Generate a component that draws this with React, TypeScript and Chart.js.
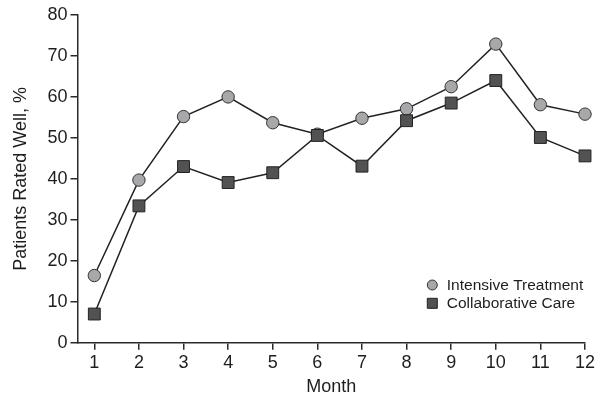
import React, { useEffect, useRef } from "react";
import { Chart, registerables } from "chart.js";

Chart.register(...registerables);

const months = [1, 2, 3, 4, 5, 6, 7, 8, 9, 10, 11, 12];
const intensive = [16.4, 39.7, 55.2, 60.0, 53.7, 50.9, 54.8, 57.1, 62.5, 72.9, 58.1, 55.8];
const collaborative = [7.0, 33.4, 43.0, 39.1, 41.5, 50.6, 43.1, 54.2, 58.5, 64.0, 50.1, 45.6];
const seriesLabels = ["Intensive Treatment", "Collaborative Care"];
const yTicks = [0, 10, 20, 30, 40, 50, 60, 70, 80];

const FONT = "'Liberation Sans', Arial, Helvetica, sans-serif";
const TEXT = "#1e1e1e";
const AXIS = "#2a2a2a";

const legendPlugin = {
  id: "insideLegend",
  afterDraw(chart: any) {
    const { ctx, chartArea } = chart;
    const baseX = chartArea.right - 152.7;
    const rows = [chartArea.bottom - 57.7, chartArea.bottom - 39.4];
    ctx.save();
    chart.data.datasets.forEach((ds: any, i: number) => {
      const y = rows[i];
      ctx.fillStyle = ds.pointBackgroundColor;
      ctx.strokeStyle = ds.pointBorderColor;
      ctx.lineWidth = 1;
      ctx.beginPath();
      if (ds.pointStyle === "rect") {
        ctx.rect(baseX - 5, y - 5, 10, 10);
      } else {
        ctx.arc(baseX, y, 5, 0, Math.PI * 2);
      }
      ctx.fill();
      ctx.stroke();
      ctx.fillStyle = TEXT;
      ctx.font = `15.5px ${FONT}`;
      ctx.textBaseline = "middle";
      ctx.textAlign = "left";
      ctx.fillText(ds.label, baseX + 14.5, y + 0.5);
    });
    ctx.restore();
  },
};

export default function App() {
  const ref = useRef<HTMLCanvasElement | null>(null);

  useEffect(() => {
    document.body.style.margin = "0";
    const canvas = ref.current;
    if (!canvas) return;
    const chart = new Chart(canvas, {
      type: "line",
      data: {
        datasets: [
          {
            label: seriesLabels[0],
            data: months.map((m, i) => ({ x: m, y: intensive[i] })),
            borderColor: "#222",
            borderWidth: 1.5,
            pointStyle: "circle",
            pointRadius: 6.2,
            pointBackgroundColor: "#a8a8aa",
            pointBorderColor: "#333",
            pointBorderWidth: 1,
            tension: 0,
            clip: false,
            order: 1,
          } as any,
          {
            label: seriesLabels[1],
            data: months.map((m, i) => ({ x: m, y: collaborative[i] })),
            borderColor: "#222",
            borderWidth: 1.5,
            pointStyle: "rect",
            pointRadius: 8.4,
            pointBackgroundColor: "#525252",
            pointBorderColor: "#222",
            pointBorderWidth: 1,
            tension: 0,
            clip: false,
            order: 0,
          } as any,
        ],
      },
      options: {
        animation: false,
        responsive: false,
        devicePixelRatio: 1,
        layout: { padding: { top: 15, right: 20, left: 0, bottom: 0 } },
        plugins: {
          legend: { display: false },
          tooltip: { enabled: false },
        },
        scales: {
          x: {
            type: "linear",
            min: 0.623,
            max: 12,
            afterBuildTicks: (scale: any) => {
              scale.ticks = months.map((v) => ({ value: v }));
            },
            afterFit: (scale: any) => {
              scale.height = 61.3;
            },
            grid: {
              drawOnChartArea: false,
              drawTicks: true,
              tickLength: 7,
              color: AXIS,
              lineWidth: 1.5,
            },
            border: { display: true, color: AXIS, width: 1.5 },
            ticks: {
              color: TEXT,
              font: { family: FONT, size: 18 },
              padding: 3,
              maxRotation: 0,
              autoSkip: false,
              callback: (v: any) => String(v),
            },
            title: {
              display: true,
              text: "Month",
              color: TEXT,
              font: { family: FONT, size: 18 },
              padding: { top: 0, bottom: 6.5 },
            },
          },
          y: {
            type: "linear",
            min: 0,
            max: 80,
            afterBuildTicks: (scale: any) => {
              scale.ticks = yTicks.map((v) => ({ value: v }));
            },
            afterFit: (scale: any) => {
              scale.width = 77.5;
            },
            grid: {
              drawOnChartArea: false,
              drawTicks: true,
              tickLength: 7,
              color: AXIS,
              lineWidth: 1.5,
            },
            border: { display: true, color: AXIS, width: 1.5 },
            ticks: {
              color: TEXT,
              font: { family: FONT, size: 18 },
              padding: 3,
              autoSkip: false,
            },
            title: {
              display: true,
              text: "Patients Rated Well, %",
              color: TEXT,
              font: { family: FONT, size: 18 },
              padding: { top: 10.5, bottom: 0 },
            },
          },
        },
      },
      plugins: [legendPlugin],
    });
    return () => chart.destroy();
  }, []);

  return (
    <div style={{ width: 605, height: 404, background: "#fff" }}>
      <canvas ref={ref} width={605} height={404} style={{ display: "block" }} />
    </div>
  );
}
